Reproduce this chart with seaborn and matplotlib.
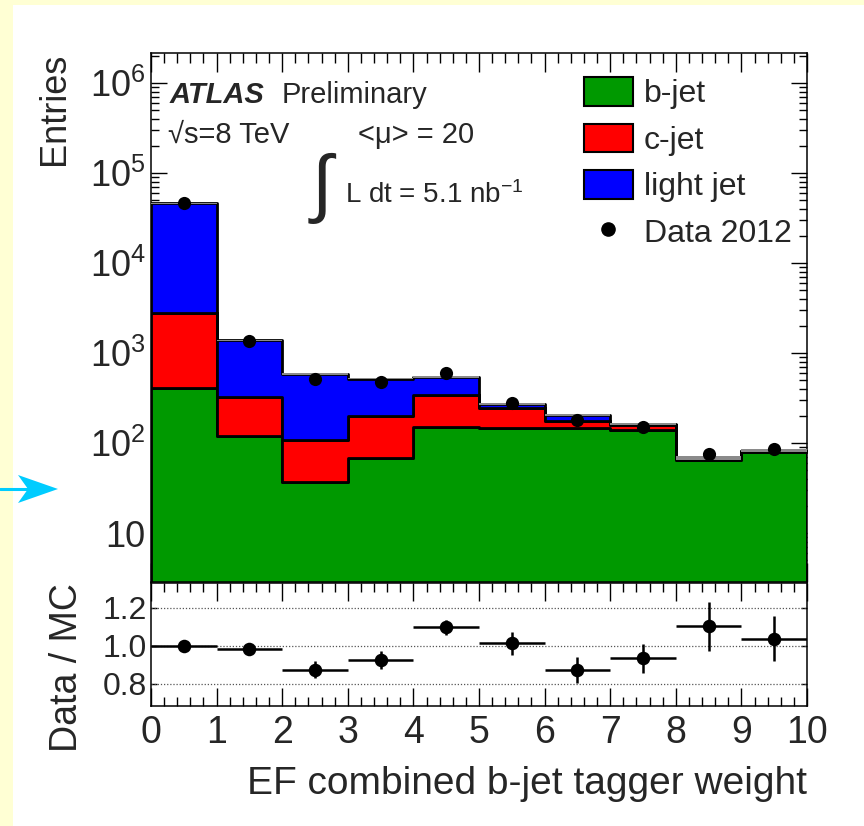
import numpy as np
import pandas as pd
import matplotlib
matplotlib.use("Agg")
import matplotlib.pyplot as plt
import seaborn as sns
from matplotlib.patches import Patch, Rectangle, Polygon
from matplotlib.lines import Line2D
from matplotlib.ticker import (FixedLocator, FuncFormatter, MultipleLocator,
                               LogLocator, NullFormatter)

# ---- histogram content -------------------------------------------------
bin_edges = [0, 1, 2, 3, 4, 5, 6, 7, 8, 9, 10]
bjet = [410, 120, 37, 68, 150, 148, 147, 140, 64, 79]
cjet = [2370, 205, 71, 132, 190, 97, 28, 20, 3, 2]
light = [43220, 1055, 477, 320, 205, 27, 29, 3, 2, 1]
data_2012 = [45800, 1352, 511, 481, 597, 275, 178, 152, 76, 85]
ratio_err = [0.006, 0.027, 0.044, 0.046, 0.041, 0.06, 0.068, 0.077, 0.13, 0.117]
mc_unc = [0.005, 0.01, 0.02, 0.02, 0.03, 0.02, 0.02, 0.02, 0.05, 0.04]

flavours = ["b-jet", "c-jet", "light jet"]
colours = {"b-jet": "#009900", "c-jet": "#ff0000", "light jet": "#0000ff"}

W, H = 864, 826
def fx(px):
    return px / W
def fy(py):
    return 1 - py / H

sns.set_style("ticks")
plt.rcParams["font.family"] = ["Liberation Sans", "DejaVu Sans"]
plt.rcParams["mathtext.fontset"] = "custom"
plt.rcParams["mathtext.rm"] = "Liberation Sans"
plt.rcParams["mathtext.it"] = "Liberation Sans:italic"
plt.rcParams["mathtext.bf"] = "Liberation Sans:bold"
plt.rcParams["axes.linewidth"] = 1.1
plt.rcParams["axes.edgecolor"] = "black"

fig = plt.figure(figsize=(W / 100, H / 100), dpi=100, facecolor="#ffffd4")
fig.add_artist(Rectangle((fx(13), 0), 1 - fx(13), 1 - 5 / H,
                         transform=fig.transFigure, facecolor="white",
                         edgecolor="none", zorder=-10))

ax = fig.add_axes([fx(151), fy(582), fx(807) - fx(151), fy(53) - fy(582)])
rax = fig.add_axes([fx(151), fy(706), fx(807) - fx(151), fy(583) - fy(706)])

edges = np.array(bin_edges, dtype=float)
centres = (edges[:-1] + edges[1:]) / 2
df = pd.concat([
    pd.DataFrame({"weight": centres, "entries": vals, "flavour": name})
    for name, vals in zip(flavours, [bjet, cjet, light])
], ignore_index=True)

# stacked MC templates, b-jet at the bottom of the stack
sns.histplot(data=df, x="weight", weights="entries", hue="flavour",
             hue_order=["light jet", "c-jet", "b-jet"], bins=list(bin_edges),
             multiple="stack", element="step", palette=colours, alpha=1,
             edgecolor="black", linewidth=2, legend=False, ax=ax)

total = np.array(bjet) + np.array(cjet) + np.array(light)
unc = np.array(mc_unc)
lo = total * (1 - unc)
hi = total * (1 + unc)
ax.fill_between(edges, np.append(lo, lo[-1]), np.append(hi, hi[-1]),
                step="post", color="#8a8a8a", lw=0, zorder=3)

data = np.array(data_2012, dtype=float)
sns.scatterplot(x=centres, y=data, color="black", s=90, linewidth=0,
                zorder=6, legend=False, ax=ax)

ax.set_yscale("log")
ax.set_xlim(0, 10)
ax.set_ylim(2.86, 2.15e6)
ax.set_xlabel("")
ax.set_ylabel("Entries", fontsize=26, loc="top")
ax.yaxis.set_label_coords(-0.12, 1.0)

ax.xaxis.set_major_locator(MultipleLocator(1))
ax.xaxis.set_minor_locator(MultipleLocator(0.2))
ax.tick_params(axis="x", which="both", direction="in", top=True, bottom=True,
               labelbottom=False, width=1, color="black")
ax.tick_params(axis="x", which="major", length=13.7)
ax.tick_params(axis="x", which="minor", length=7)

def log_label(v, pos):
    e = int(round(np.log10(v)))
    return "10" if e == 1 else r"$\mathdefault{10^{%d}}$" % e

ax.yaxis.set_major_locator(FixedLocator([10.0 ** k for k in range(1, 7)]))
ax.yaxis.set_major_formatter(FuncFormatter(log_label))
ax.yaxis.set_minor_locator(LogLocator(base=10, subs=np.arange(2, 10), numticks=30))
ax.yaxis.set_minor_formatter(NullFormatter())
ax.tick_params(axis="y", which="both", direction="in", left=True, right=True,
               width=1, labelsize=26, pad=4, color="black")
ax.tick_params(axis="y", which="major", length=11.5)
ax.tick_params(axis="y", which="minor", length=6)

# ---- ratio panel -------------------------------------------------------
ratio = data / total
for v in (0.8, 1.0, 1.2):
    rax.axhline(v, color="#555555", ls=(0, (1, 1.5)), lw=0.9, zorder=1)
rax.errorbar(centres, ratio, xerr=0.5, yerr=ratio_err, fmt="none",
             ecolor="black", elinewidth=1.8, capsize=0, zorder=4)
sns.scatterplot(x=centres, y=ratio, color="black", s=95, linewidth=0,
                zorder=5, legend=False, ax=rax)

rax.set_xlim(0, 10)
rax.set_ylim(0.682, 1.329)
rax.xaxis.set_major_locator(MultipleLocator(1))
rax.xaxis.set_minor_locator(MultipleLocator(0.2))
rax.tick_params(axis="x", which="both", direction="in", top=True, bottom=True,
                width=1, labelsize=27, pad=6.5, color="black")
rax.tick_params(axis="x", which="major", length=13)
rax.tick_params(axis="x", which="minor", length=6.5)
rax.yaxis.set_major_locator(FixedLocator([0.8, 1.0, 1.2]))
rax.yaxis.set_major_formatter(FuncFormatter(lambda v, p: "%.1f" % v))
rax.tick_params(axis="y", which="major", direction="in", left=True, right=True,
                length=4, width=1, labelsize=23, pad=3, color="black")
rax.set_xlabel("EF combined b-jet tagger weight", fontsize=28, loc="right")
rax.xaxis.set_label_coords(1.0, -0.49)
rax.set_ylabel("Data / MC", fontsize=27, loc="top")
rax.yaxis.set_label_coords(-0.10, 1.0)

# ---- legend ------------------------------------------------------------
handles = [Patch(facecolor=colours[f], edgecolor="black", linewidth=1.5)
           for f in flavours]
handles.append(Line2D([], [], marker="o", color="black", linestyle="none",
                      markersize=9.5))
fig.legend(handles, flavours + ["Data 2012"], loc="upper left",
           bbox_to_anchor=(fx(584), fy(77)), frameon=False, fontsize=23,
           handlelength=1.53, handleheight=1.0, handletextpad=0.34,
           labelspacing=0.45, borderpad=0, borderaxespad=0)

# ---- labels ------------------------------------------------------------
fig.text(fx(170), fy(103), "ATLAS", fontsize=21, fontweight="bold",
         fontstyle="italic", va="baseline")
fig.text(fx(282), fy(103), "Preliminary", fontsize=21, va="baseline")
fig.text(fx(168), fy(143), "\u221as=8 TeV", fontsize=21, va="baseline")
fig.text(fx(358), fy(143), "<\u03bc> = 20", fontsize=21, va="baseline")
fig.text(fx(312), fy(188), "\u222b", fontsize=54, va="center", ha="left")
fig.text(fx(345), fy(203), "L dt = 5.1 nb$^{-1}$", fontsize=20, va="baseline")

# ---- marker arrow on the left margin -----------------------------------
arrow_col = "#00ccff"
fig.add_artist(Line2D([fx(0), fx(30)], [fy(489), fy(489)], color=arrow_col,
                      lw=2.2, transform=fig.transFigure))
fig.add_artist(Polygon([[fx(58), fy(489)], [fx(18), fy(475)],
                        [fx(28), fy(489)], [fx(18), fy(503)]], closed=True,
                       facecolor=arrow_col, edgecolor="none",
                       transform=fig.transFigure))

fig.savefig("out.png", dpi=100, facecolor=fig.get_facecolor())
